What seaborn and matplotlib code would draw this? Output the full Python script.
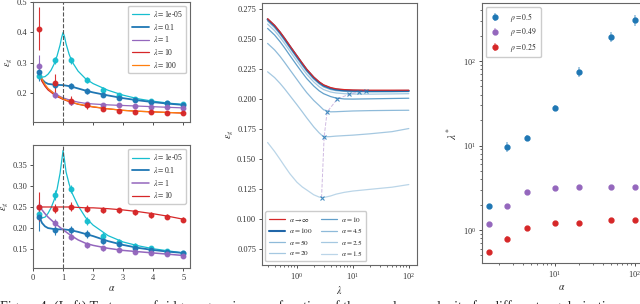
import matplotlib
matplotlib.use("Agg")
import matplotlib.pyplot as plt
import numpy as np
import pandas as pd
import seaborn as sns

# ---------------- data: left panels ----------------
alpha_pts = [0.2, 0.733, 1.267, 1.8, 2.333, 2.867, 3.4, 3.933, 4.467, 5.0]
alpha_peak = [0.2, 0.3, 0.4, 0.5, 0.6, 0.7, 0.8, 0.9, 0.95, 1.0, 1.05, 1.1, 1.2, 1.3,
              1.5, 1.75, 2.0, 2.5, 3.0, 3.5, 4.0, 4.5, 5.0]
alpha_line = [0.2, 0.3, 0.4, 0.5, 0.75, 1.0, 1.25, 1.5, 1.75, 2.0, 2.5, 3.0, 3.5, 4.0, 4.5, 5.0]

# top-left
top_lambdas = ["1e-05", "0.1", "1", "10", "100"]
top_line_1e5 = [0.262, 0.252, 0.254, 0.262, 0.275, 0.295, 0.322, 0.358, 0.382, 0.399, 0.385,
                0.362, 0.328, 0.303, 0.272, 0.247, 0.231, 0.209, 0.193, 0.181, 0.173, 0.167, 0.162]
top_line_01 = [0.262, 0.245, 0.235, 0.230, 0.227, 0.226, 0.222, 0.215, 0.208, 0.202, 0.192,
               0.183, 0.176, 0.170, 0.165, 0.161]
top_line_1 = [0.262, 0.240, 0.225, 0.214, 0.196, 0.184, 0.176, 0.170, 0.166, 0.164, 0.161,
              0.159, 0.157, 0.155, 0.153, 0.151]
top_line_10 = [0.262, 0.238, 0.222, 0.210, 0.191, 0.179, 0.170, 0.163, 0.158, 0.154, 0.148,
               0.143, 0.140, 0.138, 0.136, 0.134]
top_line_100 = [0.272, 0.245, 0.228, 0.215, 0.194, 0.181, 0.171, 0.164, 0.159, 0.155, 0.148,
                0.143, 0.140, 0.138, 0.136, 0.134]
top_pts_1e5 = [0.257, 0.308, 0.308, 0.243, 0.211, 0.192, 0.181, 0.174, 0.168, 0.163]
top_err_1e5 = [0.01, 0.012, 0.012, 0.01, 0.008, 0.007, 0.006, 0.006, 0.005, 0.005]
top_pts_01 = [0.270, 0.227, 0.222, 0.208, 0.195, 0.184, 0.178, 0.172, 0.167, 0.161]
top_err_01 = [0.03, 0.012, 0.01, 0.01, 0.008, 0.007, 0.006, 0.006, 0.005, 0.005]
top_pts_1 = [0.290, 0.195, 0.170, 0.163, 0.161, 0.159, 0.157, 0.155, 0.154, 0.151]
top_err_1 = [0.035, 0.012, 0.01, 0.008, 0.007, 0.006, 0.005, 0.005, 0.005, 0.005]
top_pts_10 = [0.412, 0.232, 0.175, 0.159, 0.148, 0.141, 0.139, 0.137, 0.135, 0.134]
top_err_10 = [0.07, 0.03, 0.014, 0.01, 0.007, 0.006, 0.005, 0.005, 0.004, 0.004]

# bottom-left
bot_lambdas = ["1e-05", "0.1", "1", "10"]
bot_line_1e5 = [0.232, 0.224, 0.226, 0.235, 0.248, 0.266, 0.292, 0.330, 0.357, 0.384, 0.360,
                0.333, 0.305, 0.283, 0.253, 0.225, 0.207, 0.182, 0.167, 0.158, 0.151, 0.146, 0.141]
bot_line_01 = [0.228, 0.212, 0.204, 0.200, 0.197, 0.197, 0.195, 0.191, 0.186, 0.181, 0.169,
               0.160, 0.153, 0.148, 0.144, 0.141]
bot_line_1 = [0.252, 0.243, 0.234, 0.226, 0.210, 0.196, 0.183, 0.172, 0.164, 0.159, 0.152,
              0.147, 0.144, 0.141, 0.138, 0.135]
bot_line_10 = [0.250, 0.250, 0.250, 0.250, 0.250, 0.250, 0.250, 0.249, 0.248, 0.248, 0.246,
               0.243, 0.239, 0.234, 0.228, 0.221]
bot_pts_1e5 = [0.234, 0.279, 0.292, 0.217, 0.182, 0.168, 0.158, 0.152, 0.146, 0.140]
bot_err_1e5 = [0.012, 0.012, 0.01, 0.01, 0.008, 0.007, 0.006, 0.005, 0.005, 0.004]
bot_pts_01 = [0.227, 0.196, 0.196, 0.186, 0.170, 0.162, 0.152, 0.148, 0.144, 0.140]
bot_err_01 = [0.035, 0.012, 0.01, 0.01, 0.008, 0.007, 0.006, 0.005, 0.005, 0.004]
bot_pts_1 = [0.250, 0.212, 0.180, 0.160, 0.152, 0.148, 0.144, 0.140, 0.138, 0.134]
bot_err_1 = [0.012, 0.01, 0.008, 0.007, 0.006, 0.005, 0.005, 0.004, 0.004, 0.004]
bot_pts_10 = [0.251, 0.246, 0.251, 0.246, 0.243, 0.242, 0.238, 0.231, 0.227, 0.220]
bot_err_10 = [0.035, 0.01, 0.01, 0.008, 0.007, 0.006, 0.006, 0.006, 0.006, 0.006]

# ---------------- data: middle panel ----------------
lam_grid = [0.3, 0.4, 0.5, 0.6, 0.75, 1.0, 1.25, 1.5, 2.0, 2.5, 3.0, 4.0, 5.0, 7.0,
            10.0, 20.0, 50.0, 100.0]
mid_labels = [r"$\alpha \to \infty$", r"$\alpha = 100$", r"$\alpha = 50$", r"$\alpha = 20$",
              r"$\alpha = 10$", r"$\alpha = 4.5$", r"$\alpha = 2.5$", r"$\alpha = 1.5$"]
mid_inf = [0.2670, 0.2615, 0.2560, 0.2510, 0.2445, 0.2363, 0.2300, 0.2250, 0.2185, 0.2145,
           0.2120, 0.2097, 0.2087, 0.2080, 0.2077, 0.2075, 0.2075, 0.2075]
mid_100 = [0.2664, 0.2609, 0.2554, 0.2504, 0.2439, 0.2357, 0.2294, 0.2244, 0.2179, 0.2139,
           0.2113, 0.2090, 0.2080, 0.2073, 0.2070, 0.2068, 0.2068, 0.2069]
mid_50 = [0.2650, 0.2595, 0.2540, 0.2490, 0.2425, 0.2343, 0.2280, 0.2231, 0.2167, 0.2127,
          0.2102, 0.2080, 0.2071, 0.2065, 0.2062, 0.2061, 0.2062, 0.2063]
mid_20 = [0.2625, 0.2570, 0.2515, 0.2465, 0.2400, 0.2318, 0.2256, 0.2207, 0.2144, 0.2104,
          0.2080, 0.2060, 0.2052, 0.2046, 0.2043, 0.2042, 0.2044, 0.2046]
mid_10 = [0.2589, 0.2534, 0.2479, 0.2429, 0.2364, 0.2282, 0.2220, 0.2172, 0.2110, 0.2070,
          0.2046, 0.2022, 0.2010, 0.2002, 0.2001, 0.2003, 0.2006, 0.2008]
mid_45 = [0.2464, 0.2410, 0.2357, 0.2308, 0.2245, 0.2165, 0.2103, 0.2055, 0.1990, 0.1948,
          0.1912, 0.1895, 0.1896, 0.1899, 0.1902, 0.1905, 0.1907, 0.1908]
mid_25 = [0.2228, 0.2180, 0.2132, 0.2088, 0.2030, 0.1955, 0.1895, 0.1845, 0.1770, 0.1720,
          0.1687, 0.1689, 0.1693, 0.1697, 0.1701, 0.1712, 0.1730, 0.1756]
mid_15 = [0.1640, 0.1565, 0.1500, 0.1445, 0.1380, 0.1310, 0.1270, 0.1245, 0.1205, 0.1186,
          0.1182, 0.1195, 0.1210, 0.1225, 0.1236, 0.1250, 0.1268, 0.1290]
min_lam = [2.76, 3.07, 3.47, 5.25, 8.6, 12.9, 17.5]
min_err = [0.118, 0.1686, 0.1894, 0.2000, 0.2042, 0.2061, 0.2068]

# ---------------- data: right panel ----------------
alpha_r = [1.5, 2.5, 4.5, 10, 20, 50, 100]
rho_labels = [r"$\rho = 0.5$", r"$\rho = 0.49$", r"$\rho = 0.25$"]
lam_star_05 = [1.92, 9.7, 12.2, 28, 74, 194, 305]
lam_star_05_err = [0.1, 1.3, 1.0, 2.0, 10, 28, 48]
lam_star_049 = [1.17, 1.94, 2.84, 3.11, 3.2, 3.2, 3.2]
lam_star_049_err = [0.03, 0.05, 0.06, 0.06, 0.06, 0.06, 0.06]
lam_star_025 = [0.554, 0.789, 1.05, 1.2, 1.2, 1.31, 1.31]
lam_star_025_err = [0.02, 0.05, 0.04, 0.03, 0.03, 0.03, 0.03]

caption = ("Figure 4: (Left) Test error of ridge regression as a function of the sample complexity "
           "for different regularisations and the best. The")

# ---------------- style ----------------
sns.set_style("ticks")
plt.rcParams["font.family"] = ["Liberation Serif", "DejaVu Serif"]
plt.rcParams["mathtext.fontset"] = "stix"
plt.rcParams["axes.edgecolor"] = "#666666"
plt.rcParams["axes.linewidth"] = 0.8
plt.rcParams["xtick.color"] = "#333333"
plt.rcParams["ytick.color"] = "#333333"
plt.rcParams["xtick.major.size"] = 2.5
plt.rcParams["ytick.major.size"] = 2.5
plt.rcParams["xtick.minor.size"] = 1.5
plt.rcParams["ytick.minor.size"] = 1.5
plt.rcParams["xtick.major.width"] = 0.6
plt.rcParams["ytick.major.width"] = 0.6
plt.rcParams["xtick.minor.width"] = 0.5
plt.rcParams["ytick.minor.width"] = 0.5

FS = 6.0
LFS = 5.5
CYAN, BLUE, PURPLE, RED, ORANGE = "#17becf", "#1f77b4", "#9467bd", "#d62728", "#ff7f0e"

fig = plt.figure(figsize=(6.4, 3.04), dpi=100)
ax1 = fig.add_axes([0.0516, 0.599, 0.245, 0.395])
ax2 = fig.add_axes([0.0516, 0.118, 0.245, 0.405], sharex=ax1)
ax3 = fig.add_axes([0.409, 0.128, 0.242, 0.862])
ax4 = fig.add_axes([0.753, 0.134, 0.25, 0.855])


def draw_lines_points(ax, lines, pts, lambdas, colors, xs_lines, widths):
    for lam, (xl, yl), c, w in zip(lambdas, zip(xs_lines, lines), colors, widths):
        df = pd.DataFrame({"alpha": xl, "eg": yl})
        sns.lineplot(data=df, x="alpha", y="eg", ax=ax, color=c, lw=w,
                     label=r"$\lambda = $" + lam, legend=False)
    for (yp, ye), c in zip(pts, colors):
        ax.errorbar(alpha_pts[:len(yp)], yp, yerr=ye, fmt="o", ms=3.2, color=c,
                    elinewidth=0.8, ecolor=c, alpha=0.95, capsize=0)


leg_kw = dict(fontsize=LFS, borderpad=0.45, labelspacing=0.35, handlelength=2.2,
              handletextpad=0.5, framealpha=1)

# top-left
draw_lines_points(
    ax1,
    [top_line_1e5, top_line_01, top_line_1, top_line_10, top_line_100],
    [(top_pts_1e5, top_err_1e5), (top_pts_01, top_err_01), (top_pts_1, top_err_1),
     (top_pts_10, top_err_10)],
    top_lambdas, [CYAN, BLUE, PURPLE, RED, ORANGE],
    [alpha_peak, alpha_line, alpha_line, alpha_line, alpha_line],
    [0.9, 1.3, 0.9, 0.9, 0.9])
ax1.axvline(1.0, color="#555555", ls="--", lw=0.8)
ax1.set_ylim(0.105, 0.5)
ax1.set_yticks([0.2, 0.3, 0.4, 0.5])
ax1.set_yticklabels(["0.2", "0.3", "0.4", "0.5"])
ax1.set_ylabel(r"$\epsilon_g$", fontsize=FS + 1, labelpad=1)
ax1.tick_params(axis="x", labelbottom=False)
ax1.set_xlabel("")
ax1.legend(handles=ax1.get_lines()[:5], loc="upper right", **leg_kw)

# bottom-left
draw_lines_points(
    ax2,
    [bot_line_1e5, bot_line_01, bot_line_1, bot_line_10],
    [(bot_pts_1e5, bot_err_1e5), (bot_pts_01, bot_err_01), (bot_pts_1, bot_err_1),
     (bot_pts_10, bot_err_10)],
    bot_lambdas, [CYAN, BLUE, PURPLE, RED],
    [alpha_peak, alpha_line, alpha_line, alpha_line],
    [0.9, 1.3, 1.1, 0.9])
ax2.axvline(1.0, color="#555555", ls="--", lw=0.8)
ax2.set_xlim(0, 5.22)
ax2.set_ylim(0.105, 0.397)
ax2.set_yticks([0.15, 0.20, 0.25, 0.30, 0.35])
ax2.set_yticklabels(["0.15", "0.20", "0.25", "0.30", "0.35"])
ax2.set_xticks([0, 1, 2, 3, 4, 5])
ax2.set_ylabel(r"$\epsilon_g$", fontsize=FS + 1, labelpad=1)
ax2.set_xlabel(r"$\alpha$", fontsize=FS + 1, labelpad=2)
ax2.legend(handles=ax2.get_lines()[:4], loc="upper right", **leg_kw)

for ax in (ax1, ax2):
    ax.tick_params(labelsize=FS, pad=1.5)

# middle
mid_curves = [mid_inf, mid_100, mid_50, mid_20, mid_10, mid_45, mid_25, mid_15]
mid_styles = [(RED, 1.0, 0.9), ("#2066a8", 1.0, 1.5), (BLUE, 0.5, 0.9), (BLUE, 0.4, 0.9),
              (BLUE, 0.7, 0.9), (BLUE, 0.5, 0.9), (BLUE, 0.4, 0.9), (BLUE, 0.3, 0.9)]
order = [1, 2, 3, 4, 5, 6, 7, 0]
for i in order:
    c, a, lw = mid_styles[i]
    df = pd.DataFrame({"lam": lam_grid, "eg": mid_curves[i]})
    sns.lineplot(data=df, x="lam", y="eg", ax=ax3, color=c, alpha=a, lw=lw,
                 label=mid_labels[i], legend=False)
lines = ax3.get_lines()
handles = [lines[order.index(i)] for i in range(8)]
ax3.plot(min_lam, min_err, ls="--", color=PURPLE, alpha=0.45, lw=0.7)
ax3.plot(min_lam, min_err, ls="none", marker="x", ms=3, mew=0.8, color=BLUE, alpha=0.8)
ax3.set_xscale("log")
ax3.set_xlim(0.236, 138)
ax3.set_ylim(0.062, 0.28)
ax3.set_yticks([0.075, 0.100, 0.125, 0.150, 0.175, 0.200, 0.225, 0.250, 0.275])
ax3.set_yticklabels(["0.075", "0.100", "0.125", "0.150", "0.175", "0.200", "0.225",
                     "0.250", "0.275"])
ax3.set_xlabel(r"$\lambda$", fontsize=FS + 1, labelpad=2)
ax3.set_ylabel(r"$\epsilon_g$", fontsize=FS + 1, labelpad=1)
ax3.tick_params(labelsize=FS, pad=1.5)
ax3.legend(handles=handles, ncol=2, loc="lower left", fontsize=LFS - 0.3, borderpad=0.45,
           labelspacing=0.35, handlelength=2.2, handletextpad=0.6, columnspacing=1.2,
           framealpha=1)

# right
for vals, errs, c, lab in [(lam_star_05, lam_star_05_err, BLUE, rho_labels[0]),
                           (lam_star_049, lam_star_049_err, PURPLE, rho_labels[1]),
                           (lam_star_025, lam_star_025_err, RED, rho_labels[2])]:
    ax4.errorbar(alpha_r, vals, yerr=errs, fmt="o", ms=3.5, color=c,
                 ecolor=matplotlib.colors.to_rgba(c, 0.45), elinewidth=1.2, capsize=0, label=lab)
sns.despine(ax=ax4, top=False, right=False)
ax4.set_xscale("log")
ax4.set_yscale("log")
ax4.set_xlim(1.22, 123)
ax4.set_ylim(0.404, 482)
ax4.set_xlabel(r"$\alpha$", fontsize=FS + 1, labelpad=2)
ax4.set_ylabel(r"$\lambda^*$", fontsize=FS + 2, labelpad=2)
ax4.tick_params(labelsize=FS, pad=1.5)
ax4.legend(loc="upper left", fontsize=LFS, borderpad=0.5, labelspacing=0.3,
           handlelength=1.5, handletextpad=1.2, framealpha=1)

fig.text(0.0, 4 / 304, caption, fontsize=10, va="top", ha="left")

fig.savefig("out.png", dpi=100)
